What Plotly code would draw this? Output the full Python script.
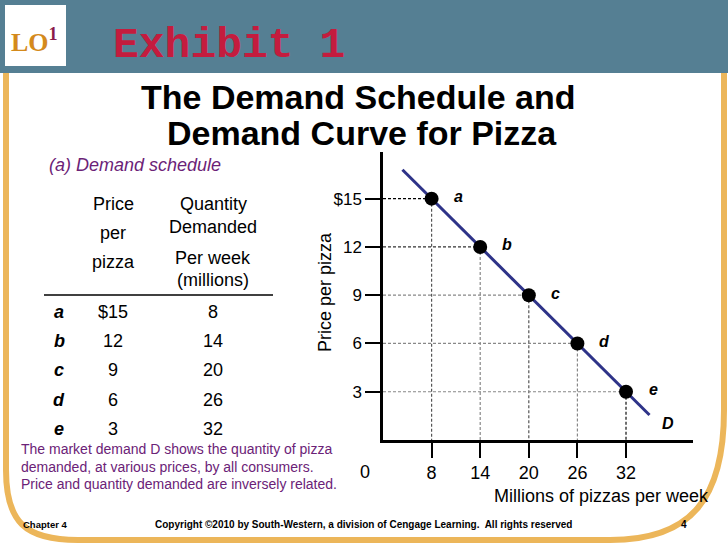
import plotly.graph_objects as go

W, H = 728, 546

# ---- data ----
point_labels = ["a", "b", "c", "d", "e"]
price = [15, 12, 9, 6, 3]
quantity = [8, 14, 20, 26, 32]
price_ticks = [3, 6, 9, 12, 15]
price_tick_labels = ["3", "6", "9", "12", "$15"]
qty_ticks = [8, 14, 20, 26, 32]
qty_tick_labels = ["8", "14", "20", "26", "32"]
curve_q = [4.4, 34.9]
curve_p = [16.8, 1.55]
table_price_labels = ["$15", "12", "9", "6", "3"]
table_qty_labels = ["8", "14", "20", "26", "32"]

# ---- styling / layout constants ----
X_START, X_END = 2.0, 40.27
Y_END = 17.9
h_colors = ["#000000", "#333333", "#888888", "#888888", "#888888"]
v_colors = ["#555555", "#888888", "#555555", "#888888", "#111111"]
SANS = "Liberation Sans, Arial, sans-serif"
PURPLE = "#6b2277"


def px(x):
    return x / W


def py(y):
    return 1 - y / H


def txt(x, y, text, size, color="black", family=SANS, xanchor="center", **kw):
    d = dict(x=px(x), y=py(y), xref="paper", yref="paper", text=text, showarrow=False,
             xanchor=xanchor, yanchor="middle", font=dict(family=family, size=size, color=color))
    d.update(kw)
    return d


fig = go.Figure()

# dashed guide lines
for i in range(len(price)):
    fig.add_trace(go.Scatter(x=[X_START, quantity[i]], y=[price[i], price[i]], mode="lines",
                             line=dict(color=h_colors[i], width=1.2, dash="3px,2px"),
                             hoverinfo="skip", showlegend=False))
    fig.add_trace(go.Scatter(x=[quantity[i], quantity[i]], y=[price[i], 0], mode="lines",
                             line=dict(color=v_colors[i], width=1.2, dash="3px,2px"),
                             hoverinfo="skip", showlegend=False))

# demand curve
fig.add_trace(go.Scatter(x=curve_q, y=curve_p, mode="lines",
                         line=dict(color="#2e3388", width=3), showlegend=False))
# points
fig.add_trace(go.Scatter(x=quantity, y=price, mode="markers",
                         marker=dict(color="black", size=14), showlegend=False))

annotations = []
for i, lab in enumerate(point_labels):
    annotations.append(dict(x=quantity[i], y=price[i], xref="x", yref="y", text=f"<b><i>{lab}</i></b>",
                            showarrow=False, xanchor="center", yanchor="middle", xshift=27, yshift=2,
                            font=dict(family=SANS, size=16, color="black")))
annotations.append(dict(x=37.2, y=1.0, xref="x", yref="y", text="<b><i>D</i></b>", showarrow=False,
                        xanchor="center", yanchor="middle", font=dict(family=SANS, size=16, color="black")))
# origin label
annotations.append(txt(365, 472, "0", 18))
# axis titles
annotations.append(txt(325, 292, "Price per pizza", 18, textangle=-90))
annotations.append(txt(601, 496, "Millions of pizzas per week", 18))

# header texts
annotations.append(txt(34, 41, "<b>LO<sup><span style='color:#8b1a4a'>1</span></sup></b>", 26,
                       color="#d48a1c", family="Liberation Serif, Times New Roman, serif"))
annotations.append(txt(229, 45, "<b>Exhibit 1</b>", 43, color="#c41c3e",
                       family="Liberation Mono, Courier New, monospace"))
annotations.append(txt(358, 97, "<b>The Demand Schedule and</b>", 34))
annotations.append(txt(362, 133, "<b>Demand Curve for Pizza</b>", 34))
annotations.append(txt(47, 165, "<i>(a) Demand schedule</i>", 18, color=PURPLE, xanchor="left"))

# table headers
for t, yy in [("Price", 204), ("per", 233), ("pizza", 262)]:
    annotations.append(txt(113, yy, t, 18))
for t, yy in [("Quantity", 204), ("Demanded", 227), ("Per week", 258), ("(millions)", 280)]:
    annotations.append(txt(213, yy, t, 18))
row_y = [312, 341, 370, 400, 429]
for i in range(len(point_labels)):
    annotations.append(txt(59, row_y[i], f"<b><i>{point_labels[i]}</i></b>", 18))
    annotations.append(txt(113, row_y[i], table_price_labels[i], 18))
    annotations.append(txt(213, row_y[i], table_qty_labels[i], 18))

# description
for t, yy in [("The market demand D shows the quantity of pizza", 449),
              ("demanded, at various prices, by all consumers.", 467),
              ("Price and quantity demanded are inversely related.", 484)]:
    annotations.append(txt(19, yy, t, 14, color=PURPLE, xanchor="left"))

# footer
annotations.append(txt(21, 524, "<b>Chapter 4</b>", 9.5, xanchor="left"))
annotations.append(txt(363, 524, "<b>Copyright \u00a92010 by South-Western, a division of Cengage Learning.  "
                                 "All rights reserved</b>", 10))
annotations.append(txt(684, 524, "<b>4</b>", 10))

shapes = [
    dict(type="rect", xref="paper", yref="paper", x0=0, x1=1, y0=py(73), y1=1,
         fillcolor="#557f93", line=dict(width=0), layer="below"),
    dict(type="rect", xref="paper", yref="paper", x0=px(5), x1=px(66), y0=py(66), y1=py(5),
         fillcolor="white", line=dict(width=0), layer="below"),
    dict(type="path", xref="paper", yref="paper",
         path=(f"M {px(6)},{py(73)} L {px(6)},{py(470)} "
               f"C {px(6)},{py(522)} {px(25)},{py(540)} {px(78)},{py(540)} "
               f"L {px(610)},{py(540)} "
               f"C {px(692)},{py(540)} {px(724)},{py(498)} {px(724)},{py(410)} "
               f"L {px(724)},{py(73)}"),
         line=dict(color="#ecb65a", width=6), layer="below"),
    # table rule
    dict(type="line", xref="paper", yref="paper", x0=px(44), x1=px(273), y0=py(295), y1=py(295),
         line=dict(color="black", width=1.5)),
]

fig.update_layout(
    width=W, height=H, autosize=False,
    margin=dict(l=0, r=0, t=0, b=0),
    paper_bgcolor="white", plot_bgcolor="white",
    showlegend=False,
    xaxis=dict(domain=[px(383), px(693)], range=[X_START, X_END], showgrid=False, zeroline=False,
               showline=True, linecolor="black", linewidth=2.5,
               tickmode="array", tickvals=qty_ticks, ticktext=qty_tick_labels,
               ticks="outside", ticklen=15, tickwidth=1.5, tickcolor="black",
               ticklabelstandoff=0, tickfont=dict(family=SANS, size=18, color="black")),
    yaxis=dict(domain=[py(440), py(152)], range=[0, Y_END], showgrid=False, zeroline=False,
               showline=True, linecolor="black", linewidth=2.5,
               tickmode="array", tickvals=price_ticks, ticktext=price_tick_labels,
               ticks="outside", ticklen=15, tickwidth=1.5, tickcolor="black",
               tickfont=dict(family=SANS, size=17, color="black")),
    annotations=annotations,
    shapes=shapes,
)

fig.write_html("out.html", config={"displayModeBar": False},
               post_script="document.body.style.margin='0px';")
